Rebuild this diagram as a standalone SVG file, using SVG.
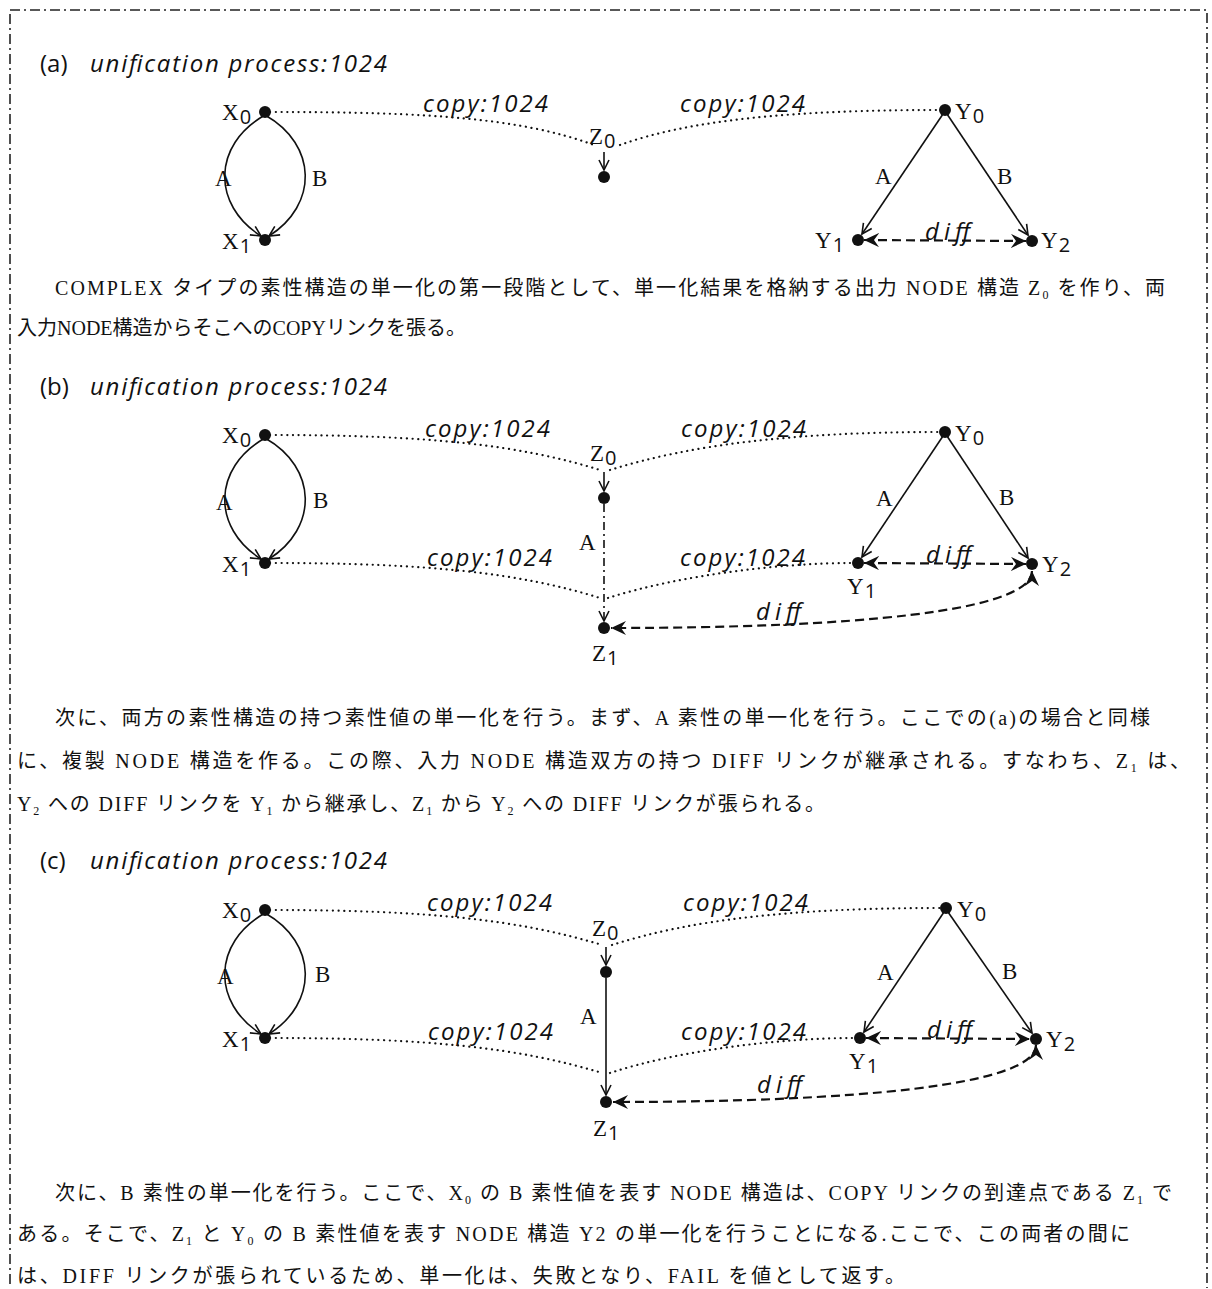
<svg xmlns="http://www.w3.org/2000/svg" width="1212" height="1289" viewBox="0 0 1212 1289">
<style>
.title{font-family:"Open Sans","Noto Sans",sans-serif;font-size:24px;fill:#111}
.it{font-style:italic}
.lbl{font-family:"Open Sans","Noto Sans",sans-serif;font-style:italic;font-size:24px;fill:#111}
.mono{font-family:"Liberation Serif","DejaVu Serif",serif;font-size:23px;fill:#111}
.sub{font-family:"Open Sans","Noto Sans",sans-serif;font-size:20px}
.para{font-family:"Liberation Serif","Noto Sans CJK JP",serif;font-size:20px;fill:#111}
.node{fill:#111}
.solid{fill:none;stroke:#111;stroke-width:1.6}
.dot{fill:none;stroke:#111;stroke-width:2.2;stroke-dasharray:0.1 5.6;stroke-linecap:round}
.dash{fill:none;stroke:#111;stroke-width:2.2;stroke-dasharray:9 5}
.dashdot{fill:none;stroke:#111;stroke-width:1.6;stroke-dasharray:8 4 2 4}
.frame{fill:none;stroke:#222;stroke-width:1.6;stroke-dasharray:10 4 2 4}
</style>
<defs>
<marker id="open" markerUnits="userSpaceOnUse" markerWidth="14" markerHeight="14" refX="11" refY="6" orient="auto" viewBox="0 0 14 12">
<path d="M1,1 L11,6 L1,11" fill="none" stroke="#111" stroke-width="1.6"/>
</marker>
<marker id="fill" markerUnits="userSpaceOnUse" markerWidth="16" markerHeight="14" refX="15" refY="7" orient="auto-start-reverse" viewBox="0 0 16 14">
<path d="M0,0 L15,7 L0,14 L5,7 Z" fill="#111"/>
</marker>
</defs>
<rect class="frame" x="10" y="10" width="1197" height="1300"/>
<rect x="0" y="1288" width="1212" height="2" fill="#fff"/>

<g id="connectors">
<!-- (a) -->
<path class="solid" d="M265,115 C212,145 212,205 261,236" marker-end="url(#open)"/>
<path class="solid" d="M265,115 C318,145 318,205 269,236" marker-end="url(#open)"/>
<path class="dot" d="M270,112 C430,112 520,118 594,145"/>
<path class="dot" d="M620,145 C690,120 790,110 940,110"/>
<path class="solid" d="M604,152 L604,170" marker-end="url(#open)"/>
<path class="solid" d="M943,114 L862,234" marker-end="url(#open)"/>
<path class="solid" d="M947,114 L1028,235" marker-end="url(#open)"/>
<path class="dash" d="M864,240 L1026,241" marker-start="url(#fill)" marker-end="url(#fill)"/>
<!-- (b) -->
<path class="solid" d="M265,438 C212,468 212,528 261,559" marker-end="url(#open)"/>
<path class="solid" d="M265,438 C318,468 318,528 269,559" marker-end="url(#open)"/>
<path class="dot" d="M270,435 C430,435 520,445 600,470"/>
<path class="dot" d="M610,470 C690,445 790,432 940,432"/>
<path class="solid" d="M604,472 L604,491" marker-end="url(#open)"/>
<path class="dashdot" d="M604,504 L604,621" marker-end="url(#open)"/>
<path class="dot" d="M270,563 C430,563 520,573 600,598"/>
<path class="dot" d="M608,598 C680,575 780,563 853,563"/>
<path class="solid" d="M943,436 L862,557" marker-end="url(#open)"/>
<path class="solid" d="M947,436 L1028,558" marker-end="url(#open)"/>
<path class="dash" d="M864,563 L1026,564" marker-start="url(#fill)" marker-end="url(#fill)"/>
<path class="dash" d="M1032,571 C1032,612 850,628 611,628" marker-start="url(#fill)" marker-end="url(#fill)"/>
<!-- (c) -->
<path class="solid" d="M265,913 C212,943 212,1003 261,1034" marker-end="url(#open)"/>
<path class="solid" d="M265,913 C318,943 318,1003 269,1034" marker-end="url(#open)"/>
<path class="dot" d="M270,910 C430,910 520,920 602,945"/>
<path class="dot" d="M612,945 C690,920 790,908 941,908"/>
<path class="solid" d="M606,947 L606,965" marker-end="url(#open)"/>
<path class="solid" d="M606,978 L606,1095" marker-end="url(#open)"/>
<path class="dot" d="M270,1038 C430,1038 520,1048 602,1073"/>
<path class="dot" d="M610,1073 C680,1050 780,1038 855,1038"/>
<path class="solid" d="M944,912 L864,1032" marker-end="url(#open)"/>
<path class="solid" d="M948,912 L1032,1033" marker-end="url(#open)"/>
<path class="dash" d="M866,1038 L1030,1039" marker-start="url(#fill)" marker-end="url(#fill)"/>
<path class="dash" d="M1036,1045 C1036,1086 850,1102 613,1102" marker-start="url(#fill)" marker-end="url(#fill)"/>
</g>

<g id="connector-labels">
<text class="lbl" x="423" y="112" textLength="125">copy:1024</text>
<text class="lbl" x="680" y="112" textLength="125">copy:1024</text>
<text class="lbl" x="925" y="240" textLength="45">diff</text>
<text class="mono" x="215" y="186">A</text>
<text class="mono" x="312" y="186">B</text>
<text class="mono" x="875" y="184">A</text>
<text class="mono" x="997" y="184">B</text>

<text class="lbl" x="425" y="437" textLength="125">copy:1024</text>
<text class="lbl" x="681" y="437" textLength="125">copy:1024</text>
<text class="lbl" x="427" y="566" textLength="125">copy:1024</text>
<text class="lbl" x="680" y="566" textLength="125">copy:1024</text>
<text class="lbl" x="926" y="563" textLength="45">diff</text>
<text class="lbl" x="756" y="620" textLength="45">diff</text>
<text class="mono" x="216" y="510">A</text>
<text class="mono" x="313" y="508">B</text>
<text class="mono" x="876" y="506">A</text>
<text class="mono" x="999" y="505">B</text>
<text class="mono" x="579" y="550">A</text>

<text class="lbl" x="427" y="911" textLength="125">copy:1024</text>
<text class="lbl" x="683" y="911" textLength="125">copy:1024</text>
<text class="lbl" x="428" y="1040" textLength="125">copy:1024</text>
<text class="lbl" x="681" y="1040" textLength="125">copy:1024</text>
<text class="lbl" x="927" y="1038" textLength="45">diff</text>
<text class="lbl" x="757" y="1093" textLength="45">diff</text>
<text class="mono" x="217" y="984">A</text>
<text class="mono" x="315" y="982">B</text>
<text class="mono" x="877" y="980">A</text>
<text class="mono" x="1002" y="979">B</text>
<text class="mono" x="580" y="1024">A</text>
</g>

<!-- section (a) -->
<g id="section-a">
<text class="title" x="40" y="72">(a)<tspan class="it" x="90" textLength="297">unification process:1024</tspan></text>
<g id="a-X0"><circle class="node" cx="265" cy="112" r="6"/><text class="mono" x="222" y="120">X<tspan class="sub" dx="1" dy="4">0</tspan></text></g>
<g id="a-X1"><circle class="node" cx="265" cy="240" r="6"/><text class="mono" x="222" y="249">X<tspan class="sub" dx="1" dy="4">1</tspan></text></g>
<g id="a-Z0"><circle class="node" cx="604" cy="177" r="6"/><text class="mono" x="589" y="144">Z<tspan class="sub" dx="1" dy="4">0</tspan></text></g>
<g id="a-Y0"><circle class="node" cx="945" cy="110" r="6"/><text class="mono" x="955" y="119">Y<tspan class="sub" dx="1" dy="4">0</tspan></text></g>
<g id="a-Y1"><circle class="node" cx="858" cy="240" r="6"/><text class="mono" x="815" y="248">Y<tspan class="sub" dx="1" dy="4">1</tspan></text></g>
<g id="a-Y2"><circle class="node" cx="1032" cy="241" r="6"/><text class="mono" x="1041" y="248">Y<tspan class="sub" dx="1" dy="4">2</tspan></text></g>
</g>
<g id="text-a" class="para">
<text x="55" y="295" textLength="1110" lengthAdjust="spacing">COMPLEX タイプの素性構造の単一化の第一段階として、単一化結果を格納する出力 NODE 構造 Z<tspan font-size="12" dy="4">0</tspan><tspan dy="-4"> を作り、両</tspan></text>
<text x="17" y="335">入力NODE構造からそこへのCOPYリンクを張る。</text>
</g>

<!-- section (b) -->
<g id="section-b">
<text class="title" x="40" y="395">(b)<tspan class="it" x="90" textLength="297">unification process:1024</tspan></text>
<g id="b-X0"><circle class="node" cx="265" cy="435" r="6"/><text class="mono" x="222" y="443">X<tspan class="sub" dx="1" dy="4">0</tspan></text></g>
<g id="b-X1"><circle class="node" cx="265" cy="563" r="6"/><text class="mono" x="222" y="572">X<tspan class="sub" dx="1" dy="4">1</tspan></text></g>
<g id="b-Z0"><circle class="node" cx="604" cy="498" r="6"/><text class="mono" x="590" y="461">Z<tspan class="sub" dx="1" dy="4">0</tspan></text></g>
<g id="b-Z1"><circle class="node" cx="604" cy="628" r="6"/><text class="mono" x="592" y="661">Z<tspan class="sub" dx="1" dy="4">1</tspan></text></g>
<g id="b-Y0"><circle class="node" cx="945" cy="432" r="6"/><text class="mono" x="955" y="441">Y<tspan class="sub" dx="1" dy="4">0</tspan></text></g>
<g id="b-Y1"><circle class="node" cx="858" cy="563" r="6"/><text class="mono" x="847" y="594">Y<tspan class="sub" dx="1" dy="4">1</tspan></text></g>
<g id="b-Y2"><circle class="node" cx="1032" cy="564" r="6"/><text class="mono" x="1042" y="572">Y<tspan class="sub" dx="1" dy="4">2</tspan></text></g>
</g>
<g id="text-b" class="para">
<text x="55" y="725" textLength="1095" lengthAdjust="spacing">次に、両方の素性構造の持つ素性値の単一化を行う。まず、A 素性の単一化を行う。ここでの(a)の場合と同様</text>
<text x="17" y="768" textLength="1173" lengthAdjust="spacing">に、複製 NODE 構造を作る。この際、入力 NODE 構造双方の持つ DIFF リンクが継承される。すなわち、Z<tspan font-size="12" dy="4">1</tspan><tspan dy="-4"> は、</tspan></text>
<text x="17" y="811" textLength="808" lengthAdjust="spacing">Y<tspan font-size="12" dy="4">2</tspan><tspan dy="-4"> への DIFF リンクを Y</tspan><tspan font-size="12" dy="4">1</tspan><tspan dy="-4"> から継承し、Z</tspan><tspan font-size="12" dy="4">1</tspan><tspan dy="-4"> から Y</tspan><tspan font-size="12" dy="4">2</tspan><tspan dy="-4"> への DIFF リンクが張られる。</tspan></text>
</g>

<!-- section (c) -->
<g id="section-c">
<text class="title" x="40" y="869">(c)<tspan class="it" x="90" textLength="297">unification process:1024</tspan></text>
<g id="c-X0"><circle class="node" cx="265" cy="910" r="6"/><text class="mono" x="222" y="918">X<tspan class="sub" dx="1" dy="4">0</tspan></text></g>
<g id="c-X1"><circle class="node" cx="265" cy="1038" r="6"/><text class="mono" x="222" y="1047">X<tspan class="sub" dx="1" dy="4">1</tspan></text></g>
<g id="c-Z0"><circle class="node" cx="606" cy="972" r="6"/><text class="mono" x="592" y="936">Z<tspan class="sub" dx="1" dy="4">0</tspan></text></g>
<g id="c-Z1"><circle class="node" cx="606" cy="1102" r="6"/><text class="mono" x="593" y="1136">Z<tspan class="sub" dx="1" dy="4">1</tspan></text></g>
<g id="c-Y0"><circle class="node" cx="946" cy="908" r="6"/><text class="mono" x="957" y="917">Y<tspan class="sub" dx="1" dy="4">0</tspan></text></g>
<g id="c-Y1"><circle class="node" cx="860" cy="1038" r="6"/><text class="mono" x="849" y="1069">Y<tspan class="sub" dx="1" dy="4">1</tspan></text></g>
<g id="c-Y2"><circle class="node" cx="1036" cy="1039" r="6"/><text class="mono" x="1046" y="1047">Y<tspan class="sub" dx="1" dy="4">2</tspan></text></g>
</g>
<g id="text-c" class="para">
<text x="55" y="1200" textLength="1117" lengthAdjust="spacing">次に、B 素性の単一化を行う。ここで、X<tspan font-size="12" dy="4">0</tspan><tspan dy="-4"> の B 素性値を表す NODE 構造は、COPY リンクの到達点である Z</tspan><tspan font-size="12" dy="4">1</tspan><tspan dy="-4"> で</tspan></text>
<text x="17" y="1241" textLength="1113" lengthAdjust="spacing">ある。そこで、Z<tspan font-size="12" dy="4">1</tspan><tspan dy="-4"> と Y</tspan><tspan font-size="12" dy="4">0</tspan><tspan dy="-4"> の B 素性値を表す NODE 構造 Y2 の単一化を行うことになる.ここで、この両者の間に</tspan></text>
<text x="17" y="1283" textLength="888" lengthAdjust="spacing">は、DIFF リンクが張られているため、単一化は、失敗となり、FAIL を値として返す。</text>
</g>
</svg>
